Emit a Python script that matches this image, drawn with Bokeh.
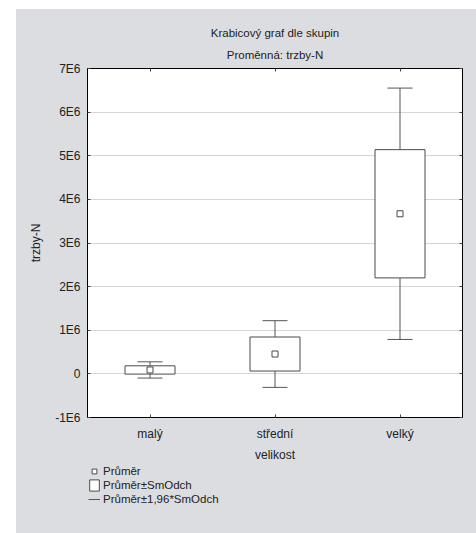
from bokeh.plotting import figure
from bokeh.layouts import column
from bokeh.models import (Range1d, FactorRange, FixedTicker, LinearAxis,
                          CategoricalAxis, Legend, LegendItem, ColumnDataSource, Title)
from bokeh.embed import file_html
from bokeh.resources import INLINE

# Group statistics of trzby-N by company size
categories = ["malý", "střední", "velký"]
means = [0.09e6, 0.455e6, 3.67e6]
std_devs = [0.095e6, 0.39e6, 1.47e6]
z_factor = 1.96

y_ticks = [-1e6, 0, 1e6, 2e6, 3e6, 4e6, 5e6, 6e6, 7e6]
y_tick_labels = ["-1E6", "0", "1E6", "2E6", "3E6", "4E6", "5E6", "6E6", "7E6"]

legend_labels = ["Průměr", "Průměr±SmOdch", "Průměr±1,96*SmOdch"]

FONT = "Liberation Sans"
BG = "#dcdde0"
BOX_COLOR = "#4a4a4a"
WHISKER_COLOR = "#555555"
TEXT = "#222222"

src = ColumnDataSource(dict(
    cat=categories,
    mean=means,
    box_lo=[m - s for m, s in zip(means, std_devs)],
    box_hi=[m + s for m, s in zip(means, std_devs)],
    wh_lo=[m - z_factor * s for m, s in zip(means, std_devs)],
    wh_hi=[m + z_factor * s for m, s in zip(means, std_devs)],
))

p = figure(width=460, height=455,
           x_range=FactorRange(*categories, range_padding=0),
           y_range=Range1d(y_ticks[0], y_ticks[-1]),
           output_backend="svg", toolbar_location=None,
           min_border_left=71, min_border_right=14,
           min_border_top=59, min_border_bottom=47)
p.background_fill_color = "white"
p.border_fill_color = BG
p.outline_line_color = "black"
p.outline_line_width = 1

xa = p.below[0]
ya = p.left[0]

# main title (outermost line)
p.title.text = "Krabicový graf dle skupin"
p.title.align = "center"
p.title.text_font = FONT
p.title.text_font_size = "11.5px"
p.title.text_font_style = "normal"
p.title.text_color = TEXT
p.title.offset = 6
p.title.standoff = 0

subtitle = Title(text="Proměnná: trzby-N", align="center", text_font=FONT,
                 text_font_size="11.5px", text_font_style="normal",
                 text_color=TEXT, offset=6, standoff=16)

# mirrored tick marks on the right and top edges, labels not drawn
ra = LinearAxis(ticker=FixedTicker(ticks=y_ticks),
                major_label_text_color=None, major_label_text_font_size="1px",
                major_tick_in=3, major_tick_out=0, minor_tick_line_color=None,
                axis_line_color="black", major_tick_line_color="#444444",
                major_label_standoff=0)
p.add_layout(ra, "right")
ta = CategoricalAxis(major_label_text_color=None, major_label_text_font_size="1px",
                     major_tick_in=3, major_tick_out=0,
                     axis_line_color="black", major_tick_line_color="#444444",
                     major_label_standoff=0)
p.above = [ta, subtitle]

# y axis (left)
ya.ticker = FixedTicker(ticks=y_ticks)
ya.major_label_overrides = {t: s for t, s in zip(y_ticks, y_tick_labels)}
ya.axis_label = "trzby-N"
ya.axis_label_text_font = FONT
ya.axis_label_text_font_size = "12px"
ya.axis_label_text_font_style = "normal"
ya.axis_label_text_color = TEXT
ya.axis_label_standoff = 9
ya.major_label_text_font = FONT
ya.major_label_text_font_size = "12px"
ya.major_label_text_color = TEXT
ya.major_label_standoff = 7
ya.major_tick_in = 3
ya.major_tick_out = 0
ya.minor_tick_line_color = None
ya.axis_line_color = "black"
ya.major_tick_line_color = "#444444"

# x axis (bottom)
xa.axis_label = "velikost"
xa.axis_label_text_font = FONT
xa.axis_label_text_font_size = "12px"
xa.axis_label_text_font_style = "normal"
xa.axis_label_text_color = TEXT
xa.axis_label_standoff = 4
xa.major_label_text_font = FONT
xa.major_label_text_font_size = "12px"
xa.major_label_text_color = TEXT
xa.major_label_standoff = 9
xa.major_tick_in = 3
xa.major_tick_out = 0
xa.axis_line_color = "black"
xa.major_tick_line_color = "#444444"

p.xgrid.visible = False
p.ygrid.grid_line_color = "#d6d6d6"
p.ygrid.grid_line_width = 1

# whiskers: mean ± 1.96*SD
p.segment(x0="cat", y0="box_hi", x1="cat", y1="wh_hi", source=src,
          line_color=WHISKER_COLOR, line_width=1)
p.segment(x0="cat", y0="wh_lo", x1="cat", y1="box_lo", source=src,
          line_color=WHISKER_COLOR, line_width=1)
p.scatter(x="cat", y="wh_hi", source=src, marker="dash", size=25,
          line_color=WHISKER_COLOR, line_width=1)
p.scatter(x="cat", y="wh_lo", source=src, marker="dash", size=25,
          line_color=WHISKER_COLOR, line_width=1)

# boxes: mean ± SD
p.vbar(x="cat", bottom="box_lo", top="box_hi", width=0.4, source=src,
       fill_color="white", line_color=BOX_COLOR, line_width=1)

# mean markers
p.scatter(x="cat", y="mean", source=src, marker="square", size=6,
          fill_color="white", line_color=BOX_COLOR, line_width=1)

# legend strip underneath the chart; its key glyphs sit outside the visible range
lg = figure(width=460, height=69, x_range=(0, 1), y_range=(0, 1),
            output_backend="svg", toolbar_location=None,
            min_border=0, x_axis_type=None, y_axis_type=None)
lg.background_fill_color = BG
lg.border_fill_color = BG
lg.outline_line_color = None
lg.grid.visible = False

keys = ColumnDataSource(dict(x=[-5], y=[-5], top=[-5], bottom=[-6]))
key_mean = lg.scatter(x="x", y="y", source=keys, marker="square", size=6,
                      fill_color="white", line_color=BOX_COLOR)
key_box = lg.vbar(x="x", top="top", bottom="bottom", width=0.1, source=keys,
                  fill_color="white", line_color=BOX_COLOR)
key_wh = lg.segment(x0="x", y0="bottom", x1="x", y1="top", source=keys,
                    line_color=WHISKER_COLOR)

legend = Legend(items=[
    LegendItem(label=legend_labels[0], renderers=[key_mean]),
    LegendItem(label=legend_labels[1], renderers=[key_box]),
    LegendItem(label=legend_labels[2], renderers=[key_wh]),
], location=(1, 27))
legend.orientation = "vertical"
legend.background_fill_alpha = 0
legend.border_line_alpha = 0
legend.padding = 0
legend.margin = 0
legend.spacing = 0
legend.glyph_width = 12
legend.glyph_height = 14
legend.label_height = 14
legend.label_standoff = 3
legend.label_text_font = FONT
legend.label_text_font_size = "11.5px"
legend.label_text_color = TEXT
legend.label_text_baseline = "middle"
lg.add_layout(legend, "center")

layout = column(p, lg, spacing=0)
layout.margin = (9, 0, 0, 16)
layout.styles = {"background-color": BG}

open("out.html", "w").write(file_html(layout, INLINE))
